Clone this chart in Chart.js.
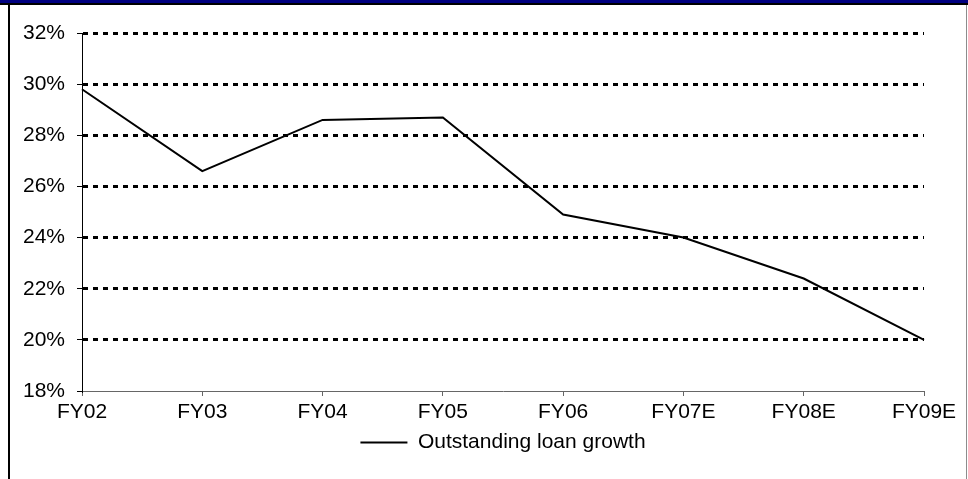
<!DOCTYPE html>
<html>
<head>
<meta charset="utf-8">
<title>Outstanding loan growth</title>
<script src="https://cdn.jsdelivr.net/npm/chart.js@4.4.1/dist/chart.umd.min.js"></script>
<style>
  html, body { margin: 0; padding: 0; background: #fff; }
  #wrap { width: 968px; height: 479px; position: relative; }
</style>
</head>
<body>
<div id="wrap"><canvas id="c" width="968" height="479"></canvas></div>
<script>
// Fiscal years (E = estimate)
const categories = ['FY02', 'FY03', 'FY04', 'FY05', 'FY06', 'FY07E', 'FY08E', 'FY09E'];
// Year-on-year growth of outstanding loans, in percent
const loanGrowth = [29.8, 26.6, 28.6, 28.7, 24.9, 24.0, 22.4, 20.0];
// Value-axis tick marks, in percent
const yTicks = [18, 20, 22, 24, 26, 28, 30, 32];
const seriesName = 'Outstanding loan growth';

const FONT = { family: '"Liberation Sans", Arial, sans-serif', size: 21 };

// Page frame: navy header strip, black left rule, grey right rule
const framePlugin = {
  id: 'frame',
  beforeDraw(chart) {
    const { ctx, width, height } = chart;
    ctx.save();
    ctx.fillStyle = '#ffffff';
    ctx.fillRect(0, 0, width, height);
    ctx.fillStyle = '#000080';
    ctx.fillRect(0, 0, width, 3);
    ctx.fillStyle = '#000000';
    ctx.fillRect(0, 3, width, 2);
    ctx.fillRect(8, 5, 2, height - 5);
    ctx.fillStyle = '#8c8c8c';
    ctx.fillRect(966, 5, 1, height - 5);
    ctx.restore();
  }
};

new Chart(document.getElementById('c'), {
  type: 'line',
  data: {
    labels: categories,
    datasets: [{
      label: seriesName,
      data: loanGrowth,
      borderColor: '#000000',
      backgroundColor: '#000000',
      borderWidth: 2,
      pointRadius: 0,
      pointHoverRadius: 0,
      tension: 0,
      fill: false
    }]
  },
  options: {
    responsive: false,
    animation: false,
    devicePixelRatio: 1,
    layout: { padding: { top: 33, right: 44, left: 0, bottom: 16 } },
    plugins: {
      legend: {
        position: 'bottom',
        fullSize: false,
        labels: {
          usePointStyle: true,
          pointStyle: 'line',
          pointStyleWidth: 47,
          boxWidth: 47,
          color: '#000000',
          font: FONT,
          padding: 8
        }
      },
      tooltip: { enabled: false }
    },
    scales: {
      x: {
        type: 'category',
        offset: false,
        afterFit(scale) { scale.height = 33; },
        grid: {
          display: true,
          drawOnChartArea: false,
          drawTicks: true,
          tickLength: 5,
          tickColor: '#666666',
          tickWidth: 1,
          color: '#666666'
        },
        border: { display: true, color: '#666666', width: 1 },
        ticks: {
          color: '#000000',
          font: FONT,
          padding: 4,
          autoSkip: false,
          maxRotation: 0
        }
      },
      y: {
        min: 18,
        max: 32,
        afterBuildTicks(scale) { scale.ticks = yTicks.map(v => ({ value: v })); },
        afterFit(scale) { scale.width = 82; },
        grid: {
          color: ctx => (ctx.tick && ctx.tick.value === yTicks[0]) ? 'rgba(0,0,0,0)' : '#000000',
          lineWidth: 3,
          drawTicks: true,
          tickLength: 5,
          tickColor: '#000000',
          tickWidth: 1
        },
        border: { display: true, color: '#000000', width: 1, dash: [5, 5] },
        ticks: {
          color: '#000000',
          font: FONT,
          padding: 12,
          callback: v => v + '%'
        }
      }
    }
  },
  plugins: [framePlugin]
});
</script>
</body>
</html>
